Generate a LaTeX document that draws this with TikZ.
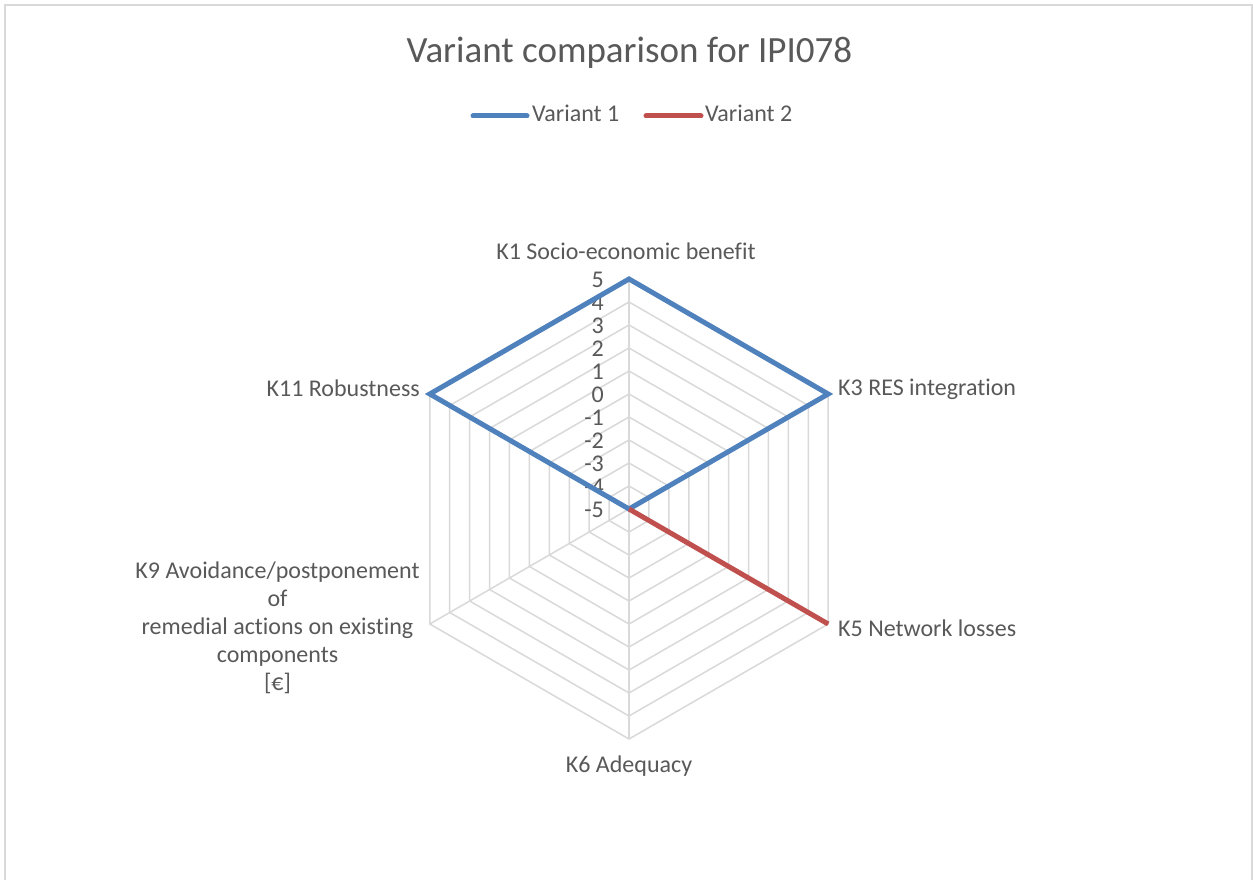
\documentclass[tikz,border=0pt]{standalone}
\usepackage{fontspec}
\setmainfont{Carlito}[Ligatures=NoCommon]
\definecolor{txt}{HTML}{595959}
\definecolor{gridc}{HTML}{D9D9D9}
\definecolor{blue1}{HTML}{4F81BD}
\definecolor{red1}{HTML}{C0504D}
\begin{document}
\begin{tikzpicture}[x=1pt,y=1pt,
  lbl/.style={text=txt, font=\fontsize{24}{28}\selectfont, inner sep=0pt},
  titlestyle/.style={text=txt, font=\fontsize{37}{42}\selectfont, inner sep=0pt},
  gridline/.style={draw=gridc, line width=1.5pt},
  ser1/.style={draw=blue1, line width=5pt, line join=miter},
  ser2/.style={draw=red1, line width=5pt},
  legline/.style={line width=5pt, line cap=round}]
\useasboundingbox (0,0) rectangle (1253,879);
\fill[white] (0,0) rectangle (1253,879);
\draw[gridc, line width=1.5pt] (5,-10) rectangle (1252,874);

% title
\node[titlestyle, anchor=base] (title) at (629.4,816.3) {Variant comparison for IPI078};

% legend
\coordinate (l1a) at (473,763);
\coordinate (l1b) at (527,763);
\coordinate (l2a) at (646,763);
\coordinate (l2b) at (701,763);
\draw[legline, blue1] (l1a) -- (l1b);
\draw[legline, red1] (l2a) -- (l2b);
\node[lbl, anchor=base west] (leg1) at (532,757) {Variant 1};
\node[lbl, anchor=base west] (leg2) at (705,757) {Variant 2};

% radar
\begin{scope}[shift={(629,370)}]
  \coordinate (C) at (0,0);
  \foreach \k in {1,...,10}{
    \draw[gridline] (90:\k*23) -- (30:\k*23) -- (-30:\k*23) -- (-90:\k*23)
      -- (-150:\k*23) -- (150:\k*23) -- cycle;
  }
  \coordinate (K1) at (90:230);
  \coordinate (K3) at (30:230);
  \coordinate (K5) at (-30:230);
  \coordinate (K6) at (-90:230);
  \coordinate (K9) at (-150:230);
  \coordinate (K11) at (150:230);
  \foreach \p in {K1,K3,K5,K6,K9,K11}{
    \draw[gridline] (C) -- (\p);
  }
\end{scope}

% axis value labels
\foreach \v [count=\i from 0] in {-5,-4,-3,-2,-1,0,1,2,3,4,5}{
  \node[lbl, anchor=base east] (n\i) at (604,{370+\i*23-8.5}) {\v};
}

% series
\draw[ser1] (K11) -- (K1) -- (K3) -- (C) -- cycle;
\draw[ser2] (C) -- (K5);

% category labels
\node[lbl, anchor=base] (t1) at (626,619) {K1 Socio-economic benefit};
\node[lbl, anchor=base west] (t3) at (838,483) {K3 RES integration};
\node[lbl, anchor=base west] (t5) at (838,243) {K5 Network losses};
\node[lbl, anchor=base] (t6) at (629,107) {K6 Adequacy};
\node[lbl, anchor=base east] (t11) at (420,482) {K11 Robustness};
\node[lbl, anchor=base, align=center] (t9) at (277.5,189)
  {K9 Avoidance/postponement\\of\\remedial actions on existing\\components\\{}[€]};
\end{tikzpicture}
\end{document}
